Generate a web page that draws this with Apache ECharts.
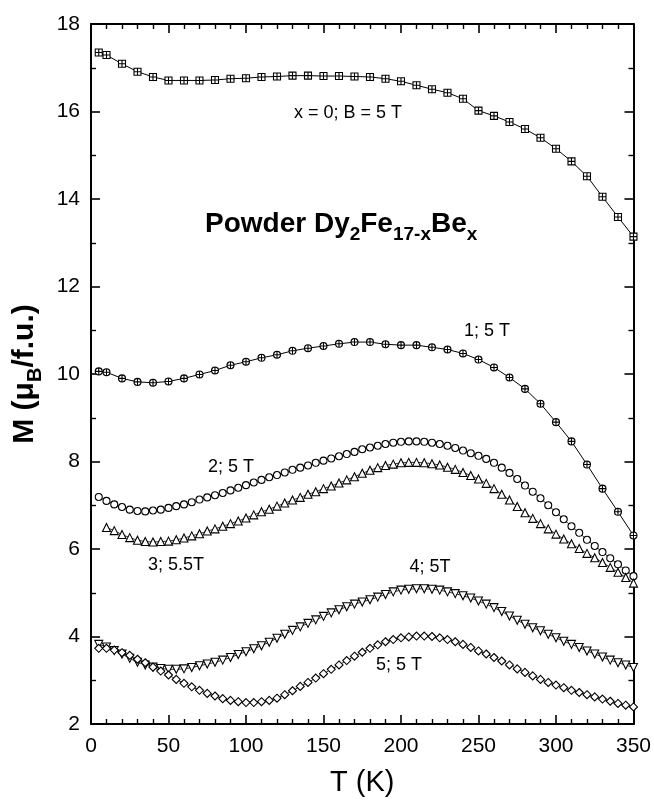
<!DOCTYPE html>
<html><head><meta charset="utf-8">
<script src="https://cdn.jsdelivr.net/npm/echarts@6/dist/echarts.min.js"></script>
<style>html,body{margin:0;padding:0;background:#fff}#c{width:654px;height:802px}</style>
</head><body><div id="c"></div>
<script>
// ---- data ----
const T0 = [5,10,20,30,40,50,60,70,80,90,100,110,120,130,140,150,160,170,180,190,200,210,220,230,240,250,260,270,280,290,300,310,320,330,340,350];
const M0 = [17.35,17.29,17.09,16.91,16.79,16.71,16.71,16.71,16.72,16.75,16.76,16.79,16.80,16.82,16.82,16.81,16.81,16.80,16.79,16.75,16.69,16.60,16.51,16.43,16.29,16.02,15.90,15.76,15.60,15.40,15.15,14.86,14.52,14.05,13.59,13.14];
const T1 = [5,10,20,30,40,50,60,70,80,90,100,110,120,130,140,150,160,170,180,190,200,210,220,230,240,250,260,270,280,290,300,310,320,330,340,350];
const M1 = [10.06,10.04,9.90,9.82,9.80,9.83,9.90,9.99,10.08,10.20,10.28,10.37,10.44,10.53,10.59,10.64,10.69,10.73,10.73,10.68,10.66,10.66,10.61,10.56,10.47,10.33,10.15,9.92,9.66,9.32,8.90,8.46,7.93,7.38,6.85,6.31];
const T2 = [5,10,15,20,25,30,35,40,45,50,55,60,65,70,75,80,85,90,95,100,105,110,115,120,125,130,135,140,145,150,155,160,165,170,175,180,185,190,195,200,205,210,215,220,225,230,235,240,245,250,255,260,265,270,275,280,285,290,295,300,305,310,315,320,325,330,335,340,345,350];
const M2 = [7.19,7.10,7.02,6.96,6.90,6.87,6.86,6.88,6.90,6.94,6.98,7.02,7.07,7.13,7.18,7.23,7.28,7.34,7.40,7.46,7.52,7.58,7.64,7.69,7.75,7.81,7.86,7.91,7.97,8.02,8.07,8.12,8.17,8.22,8.28,8.32,8.36,8.40,8.43,8.45,8.46,8.46,8.45,8.43,8.40,8.36,8.31,8.25,8.19,8.13,8.06,7.97,7.86,7.74,7.60,7.45,7.31,7.16,7.00,6.84,6.68,6.52,6.37,6.21,6.07,5.93,5.79,5.65,5.51,5.38];
const T3 = [10,15,20,25,30,35,40,45,50,55,60,65,70,75,80,85,90,95,100,105,110,115,120,125,130,135,140,145,150,155,160,165,170,175,180,185,190,195,200,205,210,215,220,225,230,235,240,245,250,255,260,265,270,275,280,285,290,295,300,305,310,315,320,325,330,335,340,345,350];
const M3 = [6.49,6.42,6.33,6.26,6.20,6.17,6.16,6.17,6.18,6.21,6.25,6.30,6.35,6.41,6.46,6.52,6.58,6.64,6.71,6.78,6.85,6.91,6.98,7.05,7.12,7.18,7.25,7.31,7.38,7.44,7.51,7.58,7.65,7.73,7.80,7.86,7.91,7.94,7.97,7.98,7.98,7.97,7.95,7.92,7.87,7.82,7.75,7.68,7.60,7.50,7.38,7.25,7.12,6.97,6.83,6.70,6.58,6.46,6.34,6.23,6.12,6.01,5.90,5.80,5.69,5.58,5.47,5.35,5.22];
const T4 = [5,10,15,20,25,30,35,40,45,50,55,60,65,70,75,80,85,90,95,100,105,110,115,120,125,130,135,140,145,150,155,160,165,170,175,180,185,190,195,200,205,210,215,220,225,230,235,240,245,250,255,260,265,270,275,280,285,290,295,300,305,310,315,320,325,330,335,340,345,350];
const M4 = [3.82,3.76,3.68,3.60,3.50,3.41,3.35,3.30,3.27,3.25,3.25,3.26,3.29,3.33,3.37,3.41,3.46,3.52,3.59,3.65,3.72,3.79,3.87,3.96,4.05,4.14,4.22,4.30,4.38,4.46,4.54,4.61,4.68,4.74,4.79,4.84,4.90,4.96,5.02,5.06,5.08,5.09,5.09,5.08,5.06,5.02,4.98,4.93,4.88,4.81,4.74,4.66,4.57,4.47,4.37,4.28,4.20,4.13,4.05,3.97,3.89,3.82,3.75,3.67,3.60,3.53,3.46,3.40,3.35,3.29];
const T5 = [5,10,15,20,25,30,35,40,45,50,55,60,65,70,75,80,85,90,95,100,105,110,115,120,125,130,135,140,145,150,155,160,165,170,175,180,185,190,195,200,205,210,215,220,225,230,235,240,245,250,255,260,265,270,275,280,285,290,295,300,305,310,315,320,325,330,335,340,345,350];
const M5 = [3.73,3.73,3.69,3.63,3.57,3.48,3.40,3.30,3.21,3.12,3.02,2.93,2.85,2.77,2.70,2.64,2.58,2.54,2.51,2.49,2.49,2.51,2.54,2.59,2.67,2.76,2.86,2.95,3.05,3.15,3.25,3.35,3.45,3.55,3.64,3.73,3.81,3.88,3.93,3.97,3.99,4.01,4.01,4.00,3.97,3.93,3.88,3.82,3.75,3.67,3.60,3.52,3.44,3.35,3.26,3.18,3.10,3.02,2.95,2.89,2.83,2.77,2.72,2.67,2.62,2.57,2.52,2.47,2.43,2.39];
const xTicks = {min: 0, max: 350, interval: 50};
const yTicks = {min: 2, max: 18, interval: 2};

// ---- chart ----
const FONT = '"Liberation Sans", Arial, Helvetica, sans-serif';
const chart = echarts.init(document.getElementById('c'));
const pairs = (t, m) => t.map((v, i) => [v, m[i]]);

function axisBase(extra) {
  return Object.assign({
    type: 'value',
    splitLine: {show: false},
    axisLine: {show: true, onZero: false, lineStyle: {color: '#000', width: 2}},
    axisTick: {show: true, inside: true, length: 9, lineStyle: {color: '#000', width: 1.6}},
    axisLabel: {color: '#000', fontSize: 21, fontFamily: FONT}
  }, extra);
}
const mk = {color: '#fff', borderColor: '#000', borderWidth: 1.1};
const sqCross = 'path://M0,0H10V10H0ZM5,0V10M0,5H10';
const circPlus = 'path://M5,0A5,5,0,1,1,5,10A5,5,0,1,1,5,0ZM5,0V10M0,5H10';

function ser(t, m, symbol, size, lineW, rot) {
  return {
    type: 'line', data: pairs(t, m), symbol: symbol, symbolSize: size,
    symbolRotate: rot || 0, showAllSymbol: true,
    lineStyle: {color: '#000', width: lineW}, itemStyle: mk,
    emphasis: {disabled: true}, silent: true, z: 3
  };
}

const option = {
  animation: false,
  backgroundColor: '#fff',
  grid: {left: 91, right: 20.5, top: 24, bottom: 76.5},
  xAxis: [
    axisBase(Object.assign({}, xTicks, {
      position: 'bottom',
      minorTick: {show: true, splitNumber: 5, length: 5, lineStyle: {color: '#000', width: 1.4}},
      axisLabel: {color: '#000', fontSize: 21, fontFamily: FONT, margin: 12},
      name: 'T (K)', nameLocation: 'middle', nameGap: 44,
      nameTextStyle: {color: '#000', fontSize: 29, fontFamily: FONT}
    })),
    axisBase(Object.assign({}, xTicks, {
      position: 'top',
      minorTick: {show: true, splitNumber: 5, length: 5, lineStyle: {color: '#000', width: 1.4}},
      axisLabel: {show: false}
    }))
  ],
  yAxis: [
    axisBase(Object.assign({}, yTicks, {
      position: 'left',
      minorTick: {show: true, splitNumber: 2, length: 5, lineStyle: {color: '#000', width: 1.4}},
      axisLabel: {color: '#000', fontSize: 21, fontFamily: FONT, margin: 11},
      name: '{m|M (μ}{s|B}{m|/f.u.)}', nameLocation: 'middle', nameGap: 20,
      nameTextStyle: {
        color: '#000', fontSize: 30, fontWeight: 'bold', fontFamily: FONT,
        rich: {
          m: {fontSize: 30, fontWeight: 'bold', fontFamily: FONT, color: '#000', lineHeight: 32, verticalAlign: 'top'},
          s: {fontSize: 20, fontWeight: 'bold', fontFamily: FONT, color: '#000', lineHeight: 36, verticalAlign: 'bottom'}
        }
      }
    })),
    axisBase(Object.assign({}, yTicks, {
      position: 'right',
      minorTick: {show: true, splitNumber: 2, length: 5, lineStyle: {color: '#000', width: 1.4}},
      axisLabel: {show: false}
    }))
  ],
  series: [
    ser(T0, M0, sqCross, 7, 1),
    ser(T1, M1, circPlus, 7, 1),
    ser(T2, M2, 'circle', 7, 0.8),
    ser(T3, M3, 'triangle', 8, 0.8),
    ser(T4, M4, 'triangle', 8, 0.8, 180),
    ser(T5, M5, 'diamond', 8, 0.8)
  ],
  graphic: [
    {type: 'text', x: 348, y: 113, style: {text: 'x = 0; B = 5 T', fontSize: 18, fontFamily: FONT, fill: '#000', align: 'center', verticalAlign: 'middle'}},
    {type: 'text', x: 487, y: 331, style: {text: '1; 5 T', fontSize: 18, fontFamily: FONT, fill: '#000', align: 'center', verticalAlign: 'middle'}},
    {type: 'text', x: 231, y: 467, style: {text: '2; 5 T', fontSize: 18, fontFamily: FONT, fill: '#000', align: 'center', verticalAlign: 'middle'}},
    {type: 'text', x: 176, y: 565, style: {text: '3; 5.5T', fontSize: 18, fontFamily: FONT, fill: '#000', align: 'center', verticalAlign: 'middle'}},
    {type: 'text', x: 430, y: 567, style: {text: '4; 5T', fontSize: 18, fontFamily: FONT, fill: '#000', align: 'center', verticalAlign: 'middle'}},
    {type: 'text', x: 399, y: 665, style: {text: '5; 5 T', fontSize: 18, fontFamily: FONT, fill: '#000', align: 'center', verticalAlign: 'middle'}},
    {type: 'text', x: 205, y: 210, style: {
      text: '{m|Powder Dy}{s|2}{m|Fe}{s|17-x}{m|Be}{s|x}',
      align: 'left', verticalAlign: 'top',
      rich: {
        m: {fontSize: 28, fontWeight: 'bold', fontFamily: FONT, fill: '#000', lineHeight: 30, verticalAlign: 'top'},
        s: {fontSize: 19, fontWeight: 'bold', fontFamily: FONT, fill: '#000', lineHeight: 34, verticalAlign: 'bottom'}
      }
    }}
  ]
};
chart.setOption(option);
</script>
</body></html>
